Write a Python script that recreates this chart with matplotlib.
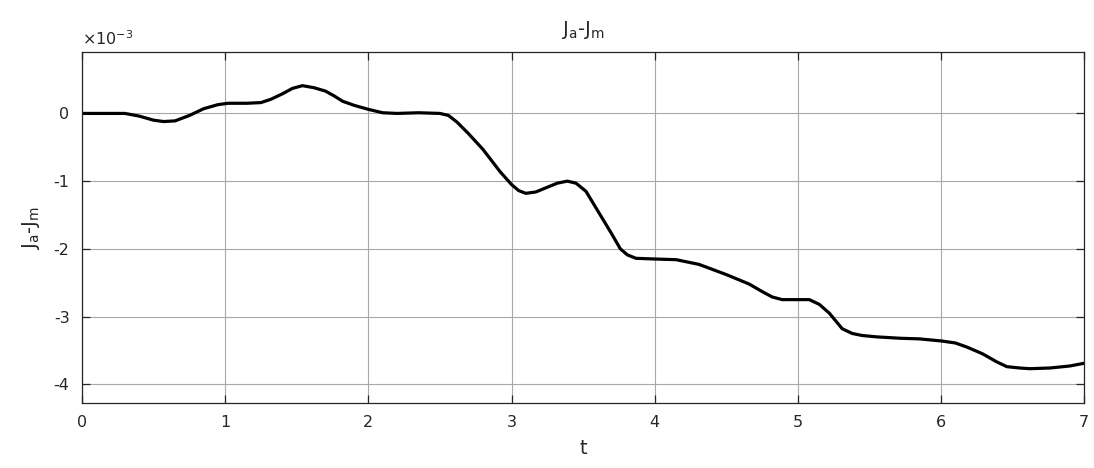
import matplotlib.pyplot as plt
import numpy as np
from matplotlib.ticker import FuncFormatter

plt.rcParams['mathtext.default'] = 'regular'
plt.rcParams['font.family'] = 'DejaVu Sans'

# values (y in units of 1e-3)
t = [0.0, 0.3, 0.4, 0.5, 0.57, 0.65, 0.75, 0.85, 0.95, 1.02, 1.15, 1.25,
     1.32, 1.40, 1.47, 1.54, 1.62, 1.70, 1.76, 1.82, 1.90, 2.0, 2.1, 2.2,
     2.35, 2.5, 2.56, 2.62, 2.70, 2.80, 2.92, 3.0, 3.05, 3.10, 3.17, 3.25,
     3.32, 3.39, 3.45, 3.52, 3.62, 3.70, 3.76, 3.81, 3.87, 4.0, 4.15, 4.31,
     4.5, 4.66, 4.75, 4.82, 4.89, 5.08, 5.15, 5.22, 5.31, 5.38, 5.45, 5.55,
     5.71, 5.85, 6.0, 6.10, 6.18, 6.29, 6.39, 6.46, 6.55, 6.62, 6.76, 6.90, 7.0]
dJ = [0.0, 0.0, -0.04, -0.10, -0.12, -0.11, -0.03, 0.07, 0.13, 0.15, 0.15, 0.16,
      0.21, 0.29, 0.37, 0.41, 0.38, 0.33, 0.26, 0.18, 0.12, 0.06, 0.01, 0.0,
      0.01, 0.0, -0.03, -0.13, -0.30, -0.53, -0.86, -1.05, -1.14, -1.18, -1.16, -1.09,
      -1.03, -1.0, -1.03, -1.15, -1.50, -1.78, -2.00, -2.09, -2.14, -2.15, -2.16, -2.23,
      -2.38, -2.52, -2.63, -2.71, -2.75, -2.75, -2.82, -2.95, -3.18, -3.25, -3.28, -3.30,
      -3.32, -3.33, -3.36, -3.39, -3.45, -3.55, -3.67, -3.74, -3.76, -3.77, -3.76, -3.73, -3.69]

xticks = [0, 1, 2, 3, 4, 5, 6, 7]
yticks = [-4e-3, -3e-3, -2e-3, -1e-3, 0]

fig = plt.figure(figsize=(10.94, 4.68), dpi=100)
ax = fig.add_axes([0.075, 0.139, 0.916, 0.75])

ax.plot(t, np.array(dJ) * 1e-3, color='black', linewidth=2.3,
        solid_joinstyle='round', solid_capstyle='round')

ax.set_xlim(0, 7)
ax.set_ylim(-4.276e-3, 0.908e-3)
ax.set_xticks(xticks)
ax.set_yticks(yticks)
ax.yaxis.set_major_formatter(FuncFormatter(lambda v, p: '%g' % round(v * 1e3, 6)))

ax.grid(True, color='#a8a8a8', linewidth=0.8)
ax.set_axisbelow(True)
for s in ax.spines.values():
    s.set_color('#262626')
    s.set_linewidth(0.9)
ax.tick_params(direction='in', length=6, width=0.9, colors='#262626',
               labelsize=11.5, top=True, right=True, pad=9)

ax.set_title('J$_a$-J$_m$', fontsize=14, color='#262626', pad=12)
ax.set_xlabel('t', fontsize=14, color='#262626', labelpad=6)
ax.set_ylabel('J$_a$-J$_m$', fontsize=14, color='#262626', labelpad=8)
ax.text(0.0, 1.012, r'$\times$10$^{\mathregular{-3}}$', transform=ax.transAxes,
        fontsize=11.5, color='#262626', ha='left', va='bottom')

fig.savefig('out.png', dpi=100)
